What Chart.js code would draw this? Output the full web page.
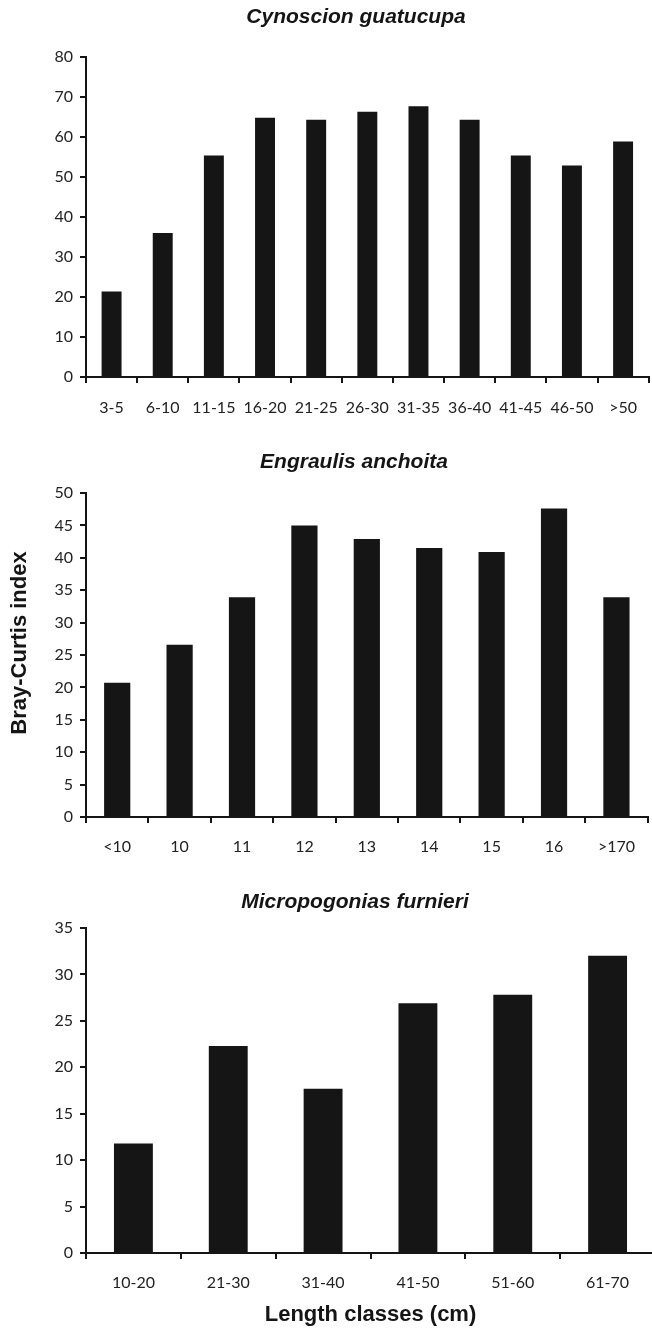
<!DOCTYPE html>
<html>
<head>
<meta charset="utf-8">
<script src="https://cdn.jsdelivr.net/npm/chart.js@4/dist/chart.umd.min.js"></script>
<style>
  html, body { margin: 0; padding: 0; background: #fff; overflow: hidden; }
  body { width: 652px; height: 1328px; position: relative; }
  canvas { position: absolute; left: 0; }
</style>
</head>
<body>
<canvas id="graficoCynoscion" width="652" height="430" style="top:0px;width:652px;height:430px"></canvas>
<canvas id="graficoEngraulis" width="649" height="430" style="top:430px;width:649px;height:430px"></canvas>
<canvas id="graficoMicropogonias" width="655" height="468" style="top:860px;width:655px;height:468px"></canvas>
<script>
// Cynoscion guatucupa
const cynoscionClasses = ['3-5', '6-10', '11-15', '16-20', '21-25', '26-30', '31-35', '36-40', '41-45', '46-50', '>50'];
const cynoscionValues = [21.4, 36.0, 55.4, 64.8, 64.3, 66.3, 67.7, 64.3, 55.4, 52.9, 58.9];

// Engraulis anchoita
const engraulisClasses = ['<10', '10', '11', '12', '13', '14', '15', '16', '>170'];
const engraulisValues = [20.7, 26.6, 33.9, 45.0, 42.9, 41.5, 40.9, 47.6, 33.9];

// Micropogonias furnieri
const micropogoniasClasses = ['10-20', '21-30', '31-40', '41-50', '51-60', '61-70'];
const micropogoniasValues = [11.8, 22.3, 17.7, 26.9, 27.8, 32.0];

const INK = '#141514';
const tickFont = { family: 'Lato, "Open Sans", sans-serif', size: 16 };

// draws extra text (species names, shared y title) at fixed spots of each canvas
const textoExtra = {
  id: 'textoExtra',
  afterDraw(chart, args, opts) {
    const ctx = chart.ctx;
    (opts.items || []).forEach(function (it) {
      ctx.save();
      ctx.font = it.font;
      ctx.fillStyle = INK;
      ctx.textAlign = 'center';
      ctx.textBaseline = 'middle';
      ctx.translate(it.x, it.y);
      if (it.rotate) ctx.rotate(it.rotate);
      ctx.fillText(it.text, 0, 0);
      ctx.restore();
    });
  }
};

function makeChart(id, labels, values, opts) {
  const ctx = document.getElementById(id);
  return new Chart(ctx, {
    type: 'bar',
    data: {
      labels: labels,
      datasets: [{
        data: values,
        backgroundColor: INK,
        borderWidth: 0,
        barPercentage: opts.barPct,
        categoryPercentage: 1
      }]
    },
    options: {
      responsive: false,
      animation: false,
      layout: { padding: { top: opts.padTop, right: 0, bottom: 0, left: 0 } },
      plugins: {
        legend: { display: false },
        tooltip: { enabled: false },
        textoExtra: { items: opts.texts }
      },
      scales: {
        x: {
          grid: { drawOnChartArea: false, drawTicks: true, tickLength: 6, color: INK, lineWidth: 2 },
          border: { display: true, color: INK, width: 2 },
          ticks: { color: '#222', font: tickFont, padding: opts.xPad, maxRotation: 0, autoSkip: false },
          title: opts.xTitle || { display: false },
          afterFit: function (scale) { scale.height = opts.xHeight; }
        },
        y: {
          min: 0,
          max: opts.yMax,
          grid: { drawOnChartArea: false, drawTicks: true, tickLength: 6, color: INK, lineWidth: 2 },
          border: { display: true, color: INK, width: 2 },
          ticks: { stepSize: opts.yStep, color: '#222', font: tickFont, padding: 7 },
          afterFit: function (scale) { scale.width = 86; }
        }
      }
    },
    plugins: [textoExtra]
  });
}

const speciesFont = 'italic bold 21px "Liberation Sans", Arial, sans-serif';
const axisFont = 'bold 22px "Liberation Sans", Arial, sans-serif';

makeChart('graficoCynoscion', cynoscionClasses, cynoscionValues, {
  barPct: 0.39, padTop: 57, xHeight: 53, xPad: 15, yMax: 80, yStep: 10,
  texts: [{ text: 'Cynoscion guatucupa', x: 356, y: 17, font: speciesFont }]
});

makeChart('graficoEngraulis', engraulisClasses, engraulisValues, {
  barPct: 0.42, padTop: 63, xHeight: 43, xPad: 14, yMax: 50, yStep: 5,
  texts: [
    { text: 'Engraulis anchoita', x: 354, y: 32, font: speciesFont },
    { text: 'Bray-Curtis index', x: 20, y: 213, font: axisFont, rotate: -Math.PI / 2 }
  ]
});

makeChart('graficoMicropogonias', micropogoniasClasses, micropogoniasValues, {
  barPct: 0.41, padTop: 68, xHeight: 75, xPad: 14, yMax: 35, yStep: 5,
  xTitle: {
    display: true,
    text: 'Length classes (cm)',
    color: INK,
    font: { family: '"Liberation Sans", Arial, sans-serif', size: 22, weight: 'bold' },
    padding: { top: 0, bottom: 0 }
  },
  texts: [{ text: 'Micropogonias furnieri', x: 355, y: 42, font: speciesFont }]
});
</script>
</body>
</html>
